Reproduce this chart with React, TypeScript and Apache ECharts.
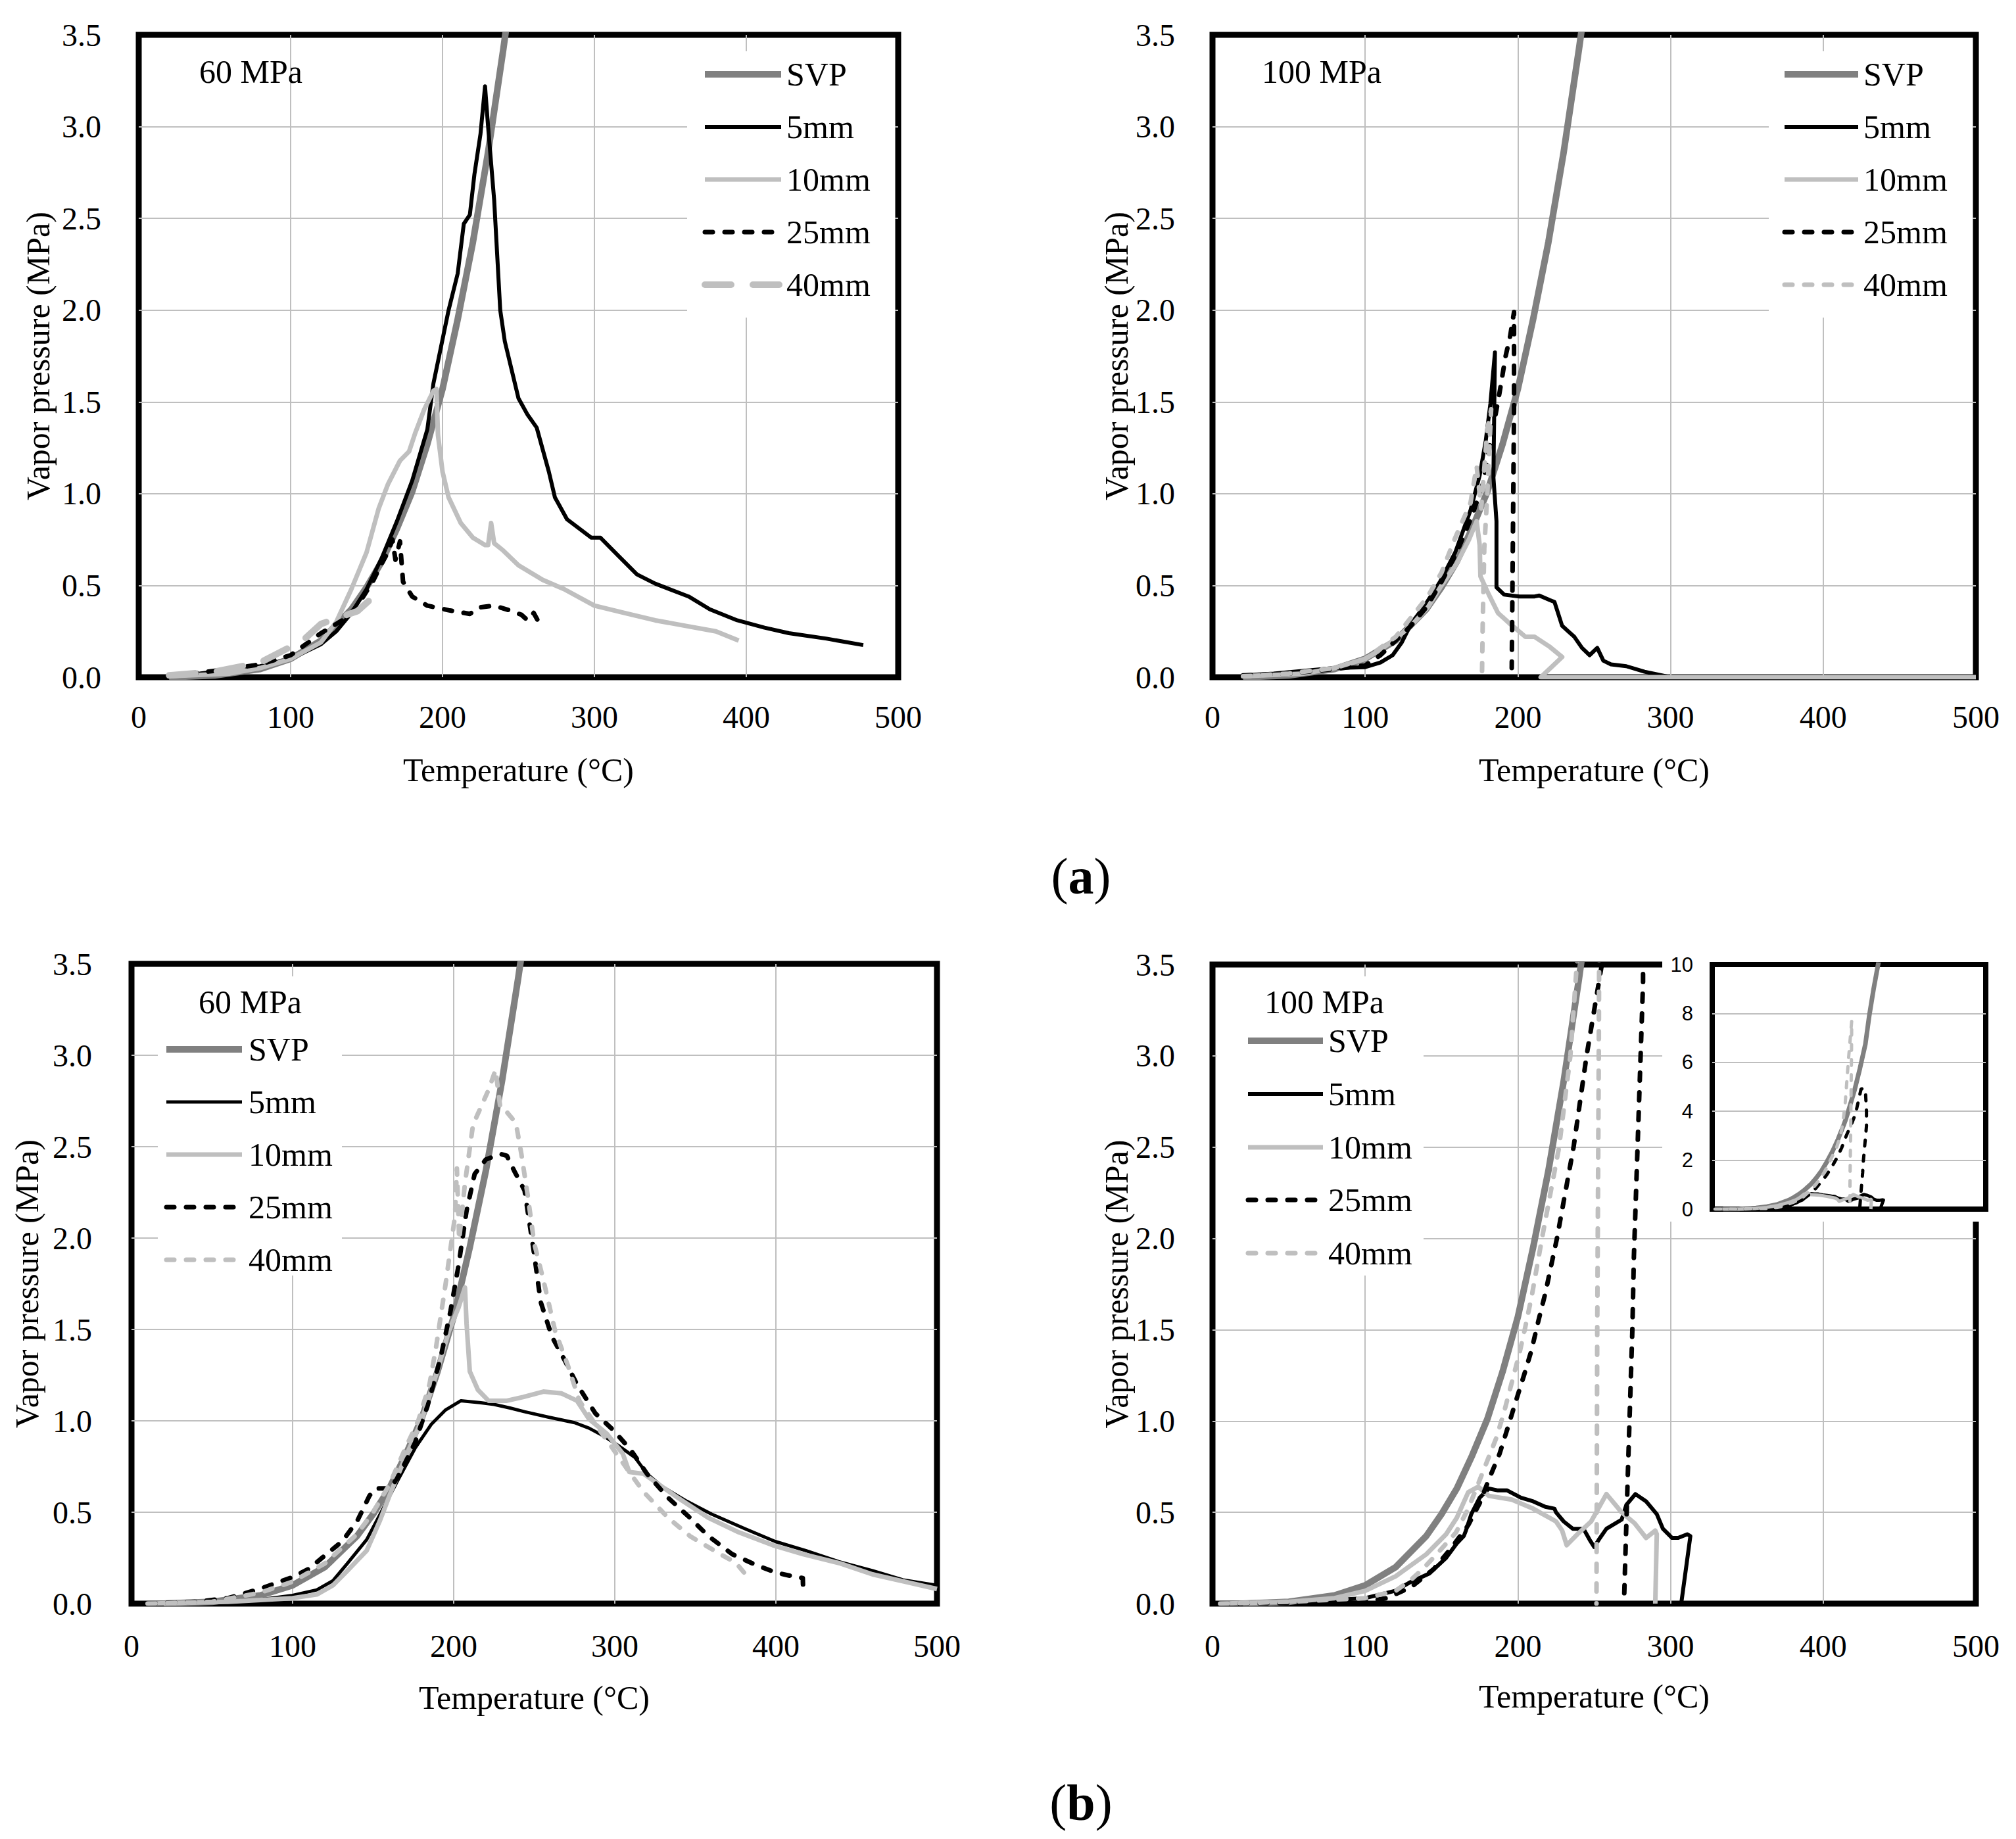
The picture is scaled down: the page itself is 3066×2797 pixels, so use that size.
import React, { useEffect, useRef } from "react";
import * as echarts from "echarts";

type Pt = [number, number];

// ---------- axis / tick definitions ----------
const X_MIN = 0;
const X_MAX = 500;
const X_STEP = 100;
const Y_MIN = 0;
const Y_MAX = 3.5;
const Y_STEP = 0.5;
const INSET_Y_MAX = 10;
const INSET_Y_STEP = 2;
const X_NAME = "Temperature (°C)";
const Y_NAME = "Vapor pressure (MPa)";
const SERIES_NAMES = ["SVP", "5mm", "10mm", "25mm", "40mm"];
const PANEL_TITLES = ["60 MPa", "100 MPa", "60 MPa", "100 MPa"];

// ---------- data (Temperature °C, Vapor pressure MPa) ----------
const SVP: Pt[] = [[20,0.0],[50,0.01],[80,0.045],[100,0.1],[120,0.2],[140,0.37],[150,0.49],[160,0.63],[170,0.81],[180,1.01],[190,1.27],[200,1.57],[210,1.95],[220,2.37],[230,2.86],[240,3.42],[243,3.6],[248,3.95],[260,4.85],[270,5.75],[280,6.75],[287,7.9],[295,9.0],[304,10.1]];

// (a) 60 MPa
const A60_5: Pt[] = [[20,0.01],[40,0.02],[60,0.04],[70,0.05],[80,0.06],[100,0.1],[120,0.18],[130,0.25],[140,0.35],[150,0.48],[160,0.65],[170,0.85],[180,1.07],[190,1.35],[194,1.6],[204,2.0],[210,2.2],[214,2.47],[218,2.52],[221,2.74],[225,2.96],[228,3.22],[230,3.0],[234,2.6],[238,2.0],[241,1.83],[250,1.52],[256,1.43],[262,1.36],[270,1.12],[274,0.98],[282,0.86],[298,0.76],[304,0.76],[316,0.66],[328,0.56],[340,0.51],[362,0.44],[376,0.37],[394,0.31],[412,0.27],[428,0.24],[453,0.21],[477,0.175]];
const A60_10: Pt[] = [[20,0.005],[60,0.02],[80,0.05],[100,0.1],[120,0.19],[130,0.3],[140,0.48],[150,0.68],[158,0.92],[164,1.05],[172,1.18],[178,1.23],[182,1.33],[188,1.46],[194,1.56],[196,1.57],[197,1.32],[200,1.12],[204,0.98],[212,0.84],[220,0.76],[228,0.72],[230,0.72],[232,0.84],[234,0.73],[240,0.69],[250,0.61],[266,0.53],[280,0.48],[300,0.39],[320,0.35],[340,0.31],[360,0.28],[380,0.25],[395,0.2]];
const A60_25: Pt[] = [[20,0.01],[40,0.025],[60,0.045],[80,0.07],[100,0.12],[120,0.24],[136,0.32],[144,0.39],[154,0.52],[160,0.62],[164,0.68],[167,0.75],[169,0.64],[172,0.74],[174,0.52],[180,0.44],[190,0.39],[204,0.365],[218,0.345],[224,0.38],[234,0.39],[244,0.365],[252,0.34],[256,0.31],[260,0.35],[264,0.29]];
const A60_40: Pt[] = [[20,0.01],[50,0.03],[80,0.08],[94,0.14],[108,0.2],[120,0.29],[130,0.32],[144,0.36],[152,0.42],[158,0.45]];

// (a) 100 MPa
const A100_5: Pt[] = [[20,0.01],[40,0.02],[60,0.035],[80,0.05],[100,0.055],[110,0.08],[118,0.12],[124,0.19],[130,0.29],[139,0.39],[149,0.52],[159,0.68],[169,0.91],[175,1.1],[179,1.29],[182,1.49],[185,1.77],[184,1.09],[186,0.85],[186,0.49],[191,0.45],[201,0.44],[211,0.44],[214,0.445],[221,0.42],[224,0.41],[229,0.28],[233,0.25],[237,0.22],[242,0.16],[247,0.12],[252,0.16],[256,0.09],[261,0.07],[271,0.06],[283,0.03],[300,0.0]];
const A100_10: Pt[] = [[20,0.005],[60,0.02],[80,0.05],[100,0.1],[110,0.15],[120,0.21],[130,0.28],[141,0.38],[150,0.5],[160,0.62],[168,0.75],[173,0.85],[175,0.72],[175.5,0.55],[181,0.45],[187,0.35],[195,0.29],[205,0.22],[211,0.22],[221,0.165],[229,0.11],[215,0.0],[500,0.0]];
const A100_25: Pt[] = [[20,0.01],[50,0.02],[80,0.045],[100,0.065],[110,0.12],[120,0.2],[130,0.28],[140,0.38],[150,0.52],[160,0.68],[170,0.88],[177,1.05],[183,1.32],[188,1.55],[192,1.75],[195,1.86],[197.5,1.99],[197.5,1.46],[196,0.05]];
const A100_40: Pt[] = [[20,0.005],[50,0.02],[80,0.05],[100,0.1],[120,0.22],[141,0.44],[150,0.57],[159,0.76],[169,0.95],[173,1.15],[176,0.92],[180,1.35],[182.5,1.46],[180,1.0],[178,0.7],[177,0.3],[176.5,0.0]];

// (b) 60 MPa
const B60_5: Pt[] = [[10,0.0],[50,0.01],[78,0.02],[100,0.045],[115,0.075],[125,0.125],[134,0.22],[146,0.35],[155,0.5],[165,0.67],[176,0.85],[186,0.98],[195,1.06],[204.5,1.11],[216,1.1],[225,1.09],[235,1.07],[244,1.05],[259,1.02],[275,0.99],[284,0.96],[293.5,0.915],[303,0.86],[312.5,0.8],[320,0.71],[329.5,0.64],[344.7,0.56],[360,0.49],[380.7,0.41],[399.6,0.34],[418.6,0.29],[439,0.23],[460,0.18],[479,0.13],[500,0.1]];
const B60_10: Pt[] = [[10,0.0],[60,0.01],[100,0.03],[115,0.05],[125,0.1],[134,0.18],[146,0.29],[154,0.45],[161,0.61],[170,0.8],[180,1.0],[189,1.25],[197,1.49],[203,1.62],[207,1.73],[208,1.53],[210,1.27],[215,1.17],[221.6,1.11],[233,1.11],[243,1.13],[255.7,1.16],[267,1.15],[276.5,1.11],[284,1.01],[295,0.93],[305,0.82],[309,0.72],[318,0.71],[339,0.58],[358,0.47],[377,0.39],[398,0.32],[417,0.27],[440,0.22],[460,0.16],[480,0.12],[500,0.08]];
const B60_25: Pt[] = [[10,0.0],[40,0.01],[60,0.03],[79.5,0.08],[100,0.145],[110,0.19],[121,0.27],[130.7,0.34],[140,0.45],[147.7,0.59],[151.5,0.63],[161,0.63],[167,0.72],[176,0.88],[183.7,1.08],[192,1.35],[198,1.6],[203,1.85],[208,2.15],[213,2.35],[220,2.43],[229,2.46],[233,2.45],[238,2.36],[244,2.26],[250,1.91],[254,1.65],[261,1.46],[269,1.33],[276.5,1.2],[288,1.04],[299,0.95],[310,0.84],[320,0.71],[333,0.58],[346.6,0.47],[358,0.37],[373,0.27],[388,0.21],[400,0.17],[410,0.15],[416.7,0.14],[417,0.055]];
const B60_40: Pt[] = [[10,0.0],[50,0.01],[80,0.06],[100,0.12],[120,0.22],[130,0.3],[140,0.38],[150,0.5],[160,0.65],[170,0.85],[178,1.0],[185,1.2],[189,1.4],[195,1.75],[200.8,2.12],[202,2.38],[203.4,1.99],[207,2.3],[212,2.62],[221.6,2.81],[226,2.92],[229,2.71],[232,2.7],[238.6,2.63],[242,2.46],[246,2.23],[250,1.97],[255.7,1.77],[263,1.49],[271,1.3],[278,1.11],[288,0.98],[297,0.87],[309,0.72],[318,0.61],[333,0.47],[346.6,0.37],[365.5,0.27],[375,0.225],[382.6,0.145]];

// (b) 100 MPa (also shown in the 0–10 MPa inset)
const B100_5: Pt[] = [[5,0.0],[50,0.01],[80,0.02],[100,0.03],[119.5,0.07],[129,0.115],[142,0.165],[153,0.25],[160,0.33],[164.6,0.37],[166,0.4],[169.5,0.49],[175,0.58],[181,0.63],[187,0.62],[193,0.62],[202,0.58],[210,0.56],[218,0.53],[224,0.52],[225,0.5],[230,0.45],[236,0.41],[243,0.41],[247,0.35],[250,0.31],[253,0.35],[258,0.41],[268,0.46],[271,0.54],[277,0.6],[284,0.56],[291,0.49],[295,0.41],[301,0.36],[305,0.36],[311,0.38],[313,0.37],[307,0.0]];
const B100_10: Pt[] = [[5,0.0],[50,0.01],[80,0.03],[100,0.07],[120,0.15],[140,0.27],[153,0.38],[160,0.47],[167.5,0.61],[174,0.64],[181,0.59],[196,0.57],[210,0.52],[225,0.45],[229,0.4],[232,0.32],[239,0.38],[248,0.45],[258,0.6],[268,0.5],[276.5,0.44],[284,0.36],[290,0.4],[291,0.38],[290,0.0]];
const B100_25: Pt[] = [[5,0.0],[60,0.005],[100,0.01],[114,0.03],[130,0.09],[145,0.19],[156,0.3],[167.5,0.43],[175,0.55],[181,0.68],[188,0.82],[192.5,0.94],[198,1.09],[204,1.25],[209,1.39],[213.5,1.55],[218,1.7],[225.6,2.0],[236.5,2.5],[245,3.0],[252,3.35],[255,3.5],[262,3.9],[268,4.5],[272,4.9],[276,4.95],[280,4.85],[282,4.0],[282,3.4],[276,1.9],[275,1.5],[272,0.7],[269.5,0.0]];
const B100_40: Pt[] = [[5,0.0],[50,0.01],[100,0.03],[120,0.07],[130,0.13],[139,0.2],[150,0.3],[159.5,0.39],[167.5,0.52],[178,0.74],[186,0.91],[191,1.05],[196,1.21],[201,1.37],[204.5,1.5],[209,1.68],[215.8,2.0],[227,2.5],[234.4,3.0],[238.6,3.5],[243,4.3],[246,5.2],[249,6.1],[252,6.9],[255,7.7],[254.5,6.1],[253.5,4.1],[253,3.0],[252,1.5],[251.5,0.0]];

const PANEL_DATA: Pt[][][] = [
  [SVP, A60_5, A60_10, A60_25, A60_40],
  [SVP, A100_5, A100_10, A100_25, A100_40],
  [SVP, B60_5, B60_10, B60_25, B60_40],
  [SVP, B100_5, B100_10, B100_25, B100_40],
];

// ---------- styles ----------
const SERIF = '"Liberation Serif", "Times New Roman", Times, serif';
const SANS = '"Liberation Sans", Arial, Helvetica, sans-serif';
const GRID_COLOR = "#bfbfbf";
const TICK_FONT = 48;
const TEXT_FONT = 50;

type LS = { color: string; width: number; dash?: number[]; cap?: string };
const ST_SVP: LS = { color: "#808080", width: 10 };
const ST_5: LS = { color: "#000000", width: 6 };
const ST_5_THIN: LS = { color: "#000000", width: 5 };
const ST_10: LS = { color: "#bfbfbf", width: 7 };
const ST_25: LS = { color: "#000000", width: 7, dash: [12, 18], cap: "round" };
const ST_40: LS = { color: "#bfbfbf", width: 7, dash: [12, 18], cap: "round" };
const ST_40_LONG: LS = { color: "#bfbfbf", width: 10, dash: [40, 33], cap: "round" };
const PANEL_STYLES: LS[][] = [
  [ST_SVP, ST_5, ST_10, ST_25, ST_40_LONG],
  [ST_SVP, ST_5, ST_10, ST_25, ST_40],
  [ST_SVP, ST_5_THIN, ST_10, ST_25, ST_40],
  [ST_SVP, ST_5, ST_10, ST_25, ST_40],
];
const INSET_STYLES: LS[] = [
  { color: "#808080", width: 7 },
  { color: "#000000", width: 5 },
  { color: "#bfbfbf", width: 5 },
  { color: "#000000", width: 5, dash: [9, 14], cap: "round" },
  { color: "#bfbfbf", width: 5, dash: [9, 14], cap: "round" },
];

// ---------- layout (pixels) ----------
const GRIDS = [
  { left: 211, top: 53, width: 1155, height: 977, yLabelMargin: 57, xLabelMargin: 36, yNameGap: 128, xNameGap: 116 },
  { left: 1844, top: 53, width: 1161, height: 977, yLabelMargin: 57, xLabelMargin: 36, yNameGap: 121, xNameGap: 116 },
  { left: 200, top: 1466, width: 1225, height: 973, yLabelMargin: 60, xLabelMargin: 40, yNameGap: 134, xNameGap: 118 },
  { left: 1844, top: 1467, width: 1161, height: 972, yLabelMargin: 57, xLabelMargin: 40, yNameGap: 120, xNameGap: 116 },
];
const INSET = { left: 2604, top: 1467, width: 416, height: 372 };
const INSET_COVER = { x: 2528, y: 1440, width: 530, height: 418 };
const TITLE_POS = [
  { x: 303, y: 109 },
  { x: 1919, y: 109 },
  { x: 302, y: 1524 },
  { x: 1923, y: 1524 },
];
const LEGENDS = [
  { rows: [113, 193, 273, 353, 433], x1: 1072, x2: 1188, tx: 1196, bg: [1045, 78, 316, 405] },
  { rows: [113, 193, 273, 353, 433], x1: 2714, x2: 2826, tx: 2834, bg: [2690, 78, 310, 405] },
  { rows: [1596, 1676, 1756, 1836, 1916], x1: 253, x2: 368, tx: 378, bg: [240, 1485, 280, 455] },
  { rows: [1583, 1664, 1745, 1825, 1906], x1: 1898, x2: 2012, tx: 2020, bg: [1850, 1485, 315, 455] },
];
const PART_LABELS = [
  { letter: "a", x: 1644, y: 1332 },
  { letter: "b", x: 1644, y: 2741 },
];

function lineStyleOf(s: LS) {
  return {
    color: s.color,
    width: s.width,
    type: s.dash ? s.dash : "solid",
    cap: s.cap || "butt",
    join: "round",
  };
}

const SPLIT = {
  show: true,
  showMinLine: false,
  showMaxLine: false,
  lineStyle: { color: GRID_COLOR, width: 2 },
};

function buildOption(): any {
  const grid: any[] = [];
  const xAxis: any[] = [];
  const yAxis: any[] = [];
  const series: any[] = [];
  const graphic: any[] = [];

  GRIDS.forEach((g, i) => {
    grid.push({
      left: g.left,
      top: g.top,
      width: g.width,
      height: g.height,
      show: true,
      borderColor: "#000",
      borderWidth: 9,
      backgroundColor: "transparent",
      containLabel: false,
      outerBoundsMode: "none",
      z: 0,
    });
    xAxis.push({
      type: "value",
      gridIndex: i,
      min: X_MIN,
      max: X_MAX,
      interval: X_STEP,
      axisLine: { show: false },
      axisTick: { show: false },
      splitLine: SPLIT,
      axisLabel: { color: "#000", fontSize: TICK_FONT, fontFamily: SERIF, margin: g.xLabelMargin },
      name: X_NAME,
      nameLocation: "middle",
      nameGap: g.xNameGap,
      nameTextStyle: { color: "#000", fontSize: TEXT_FONT, fontFamily: SERIF },
    });
    yAxis.push({
      type: "value",
      gridIndex: i,
      min: Y_MIN,
      max: Y_MAX,
      interval: Y_STEP,
      axisLine: { show: false },
      axisTick: { show: false },
      splitLine: SPLIT,
      axisLabel: {
        color: "#000",
        fontSize: TICK_FONT,
        fontFamily: SERIF,
        margin: g.yLabelMargin,
        formatter: (v: number) => v.toFixed(1),
      },
      name: Y_NAME,
      nameLocation: "middle",
      nameGap: g.yNameGap,
      nameTextStyle: { color: "#000", fontSize: TEXT_FONT, fontFamily: SERIF },
    });
    SERIES_NAMES.forEach((name, k) => {
      series.push({
        type: "line",
        name,
        data: PANEL_DATA[i][k],
        xAxisIndex: i,
        yAxisIndex: i,
        symbol: "none",
        showSymbol: false,
        silent: true,
        clip: true,
        z: 2,
        lineStyle: lineStyleOf(PANEL_STYLES[i][k]),
        itemStyle: { color: PANEL_STYLES[i][k].color },
        emphasis: { disabled: true },
      });
    });

    // panel title
    graphic.push({
      type: "text",
      x: TITLE_POS[i].x,
      y: TITLE_POS[i].y,
      z: 4,
      style: {
        text: PANEL_TITLES[i],
        fill: "#000",
        fontSize: TEXT_FONT,
        fontFamily: SERIF,
        align: "left",
        verticalAlign: "middle",
        textAlign: "left",
        textVerticalAlign: "middle",
      },
    });
    // legend
    const L = LEGENDS[i];
    graphic.push({
      type: "rect",
      z: 3,
      shape: { x: L.bg[0], y: L.bg[1], width: L.bg[2], height: L.bg[3] },
      style: { fill: "#fff" },
    });
    SERIES_NAMES.forEach((name, k) => {
      const s = PANEL_STYLES[i][k];
      graphic.push({
        type: "line",
        z: 4,
        shape: { x1: L.x1, y1: L.rows[k], x2: L.x2, y2: L.rows[k] },
        style: {
          stroke: s.color,
          lineWidth: s.width,
          lineDash: s.dash || null,
          lineCap: s.cap || "butt",
        },
      });
      graphic.push({
        type: "text",
        z: 4,
        x: L.tx,
        y: L.rows[k],
        style: {
          text: name,
          fill: "#000",
          fontSize: TEXT_FONT,
          fontFamily: SERIF,
          align: "left",
          verticalAlign: "middle",
          textAlign: "left",
          textVerticalAlign: "middle",
        },
      });
    });
  });

  // ---- inset (0–10 MPa) inside panel (b) 100 MPa ----
  graphic.push({
    type: "rect",
    z: 5,
    shape: { x: INSET_COVER.x, y: INSET_COVER.y, width: INSET_COVER.width, height: INSET_COVER.height },
    style: { fill: "#fff" },
  });
  grid.push({
    left: INSET.left,
    top: INSET.top,
    width: INSET.width,
    height: INSET.height,
    show: true,
    borderColor: "#000",
    borderWidth: 8,
    backgroundColor: "#fff",
    containLabel: false,
    outerBoundsMode: "none",
    z: 6,
  });
  xAxis.push({
    type: "value",
    gridIndex: 4,
    min: X_MIN,
    max: X_MAX,
    interval: X_STEP,
    z: 7,
    axisLine: { show: false },
    axisTick: { show: false },
    axisLabel: { show: false },
    splitLine: { show: false },
  });
  yAxis.push({
    type: "value",
    gridIndex: 4,
    min: 0,
    max: INSET_Y_MAX,
    interval: INSET_Y_STEP,
    z: 7,
    axisLine: { show: false },
    axisTick: { show: false },
    axisLabel: { color: "#000", fontSize: 31, fontFamily: SANS, margin: 29 },
    splitLine: SPLIT,
  });
  SERIES_NAMES.forEach((name, k) => {
    series.push({
      type: "line",
      name: name + " (inset)",
      data: PANEL_DATA[3][k],
      xAxisIndex: 4,
      yAxisIndex: 4,
      symbol: "none",
      showSymbol: false,
      silent: true,
      clip: true,
      z: 8,
      lineStyle: lineStyleOf(INSET_STYLES[k]),
      itemStyle: { color: INSET_STYLES[k].color },
      emphasis: { disabled: true },
    });
  });

  // ---- part labels (a), (b) ----
  PART_LABELS.forEach((p) => {
    graphic.push({
      type: "text",
      x: p.x,
      y: p.y,
      z: 4,
      style: {
        text: "{p|(}{b|" + p.letter + "}{p|)}",
        rich: {
          p: { fontSize: 78, fontFamily: SERIF, fill: "#000", color: "#000" },
          b: { fontSize: 78, fontFamily: SERIF, fontWeight: "bold", fill: "#000", color: "#000" },
        },
        align: "center",
        verticalAlign: "middle",
        textAlign: "center",
        textVerticalAlign: "middle",
      },
    });
  });

  return {
    animation: false,
    backgroundColor: "#ffffff",
    textStyle: { fontFamily: SERIF },
    grid,
    xAxis,
    yAxis,
    series,
    graphic: { elements: graphic },
    tooltip: { show: false },
  };
}

export default function App() {
  const ref = useRef<HTMLDivElement>(null);
  useEffect(() => {
    if (!ref.current) return;
    const chart = echarts.init(ref.current, undefined, { renderer: "svg" });
    chart.setOption(buildOption());
    return () => {
      chart.dispose();
    };
  }, []);
  return (
    <div
      ref={ref}
      style={{ position: "absolute", left: 0, top: 0, width: 3066, height: 2797, background: "#fff" }}
    />
  );
}
